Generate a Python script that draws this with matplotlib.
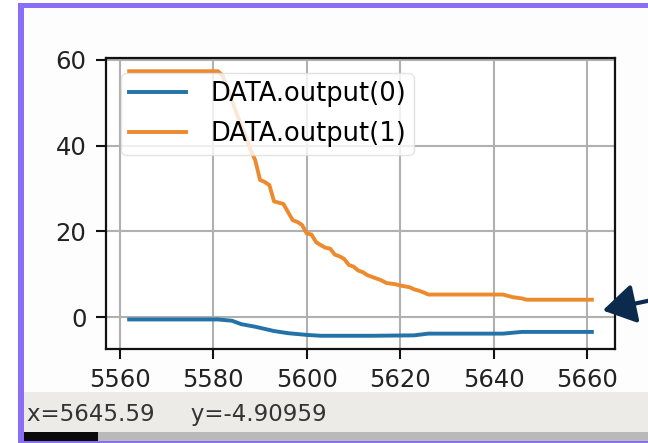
#!/usr/bin/env python
import numpy as np
import matplotlib
matplotlib.use("Agg")
import matplotlib.pyplot as plt
from matplotlib.patches import Rectangle, FancyArrowPatch

# data
blue_x = [5562, 5581, 5584, 5586, 5589, 5593, 5596, 5600, 5603, 5614, 5623, 5626, 5642, 5646, 5661]
blue_y = [-0.5, -0.5, -0.8, -1.6, -2.2, -3.2, -3.7, -4.1, -4.3, -4.3, -4.2, -3.8, -3.8, -3.4, -3.4]

orange_x = [5562, 5581, 5582, 5585, 5588, 5589, 5590, 5591, 5592, 5593, 5595, 5596, 5597,
            5598, 5599, 5600, 5601, 5602, 5603, 5604, 5605, 5606, 5607, 5608, 5609, 5610,
            5611, 5612, 5613, 5615, 5616, 5617, 5619, 5620, 5622, 5623, 5624, 5625, 5626,
            5642, 5643, 5644, 5646, 5647, 5661]
orange_y = [57.3, 57.3, 56.3, 47.5, 39.0, 36.5, 32.0, 31.5, 30.8, 27.0, 26.4, 24.5, 22.6,
            22.2, 21.5, 19.5, 19.3, 17.5, 16.8, 16.2, 16.0, 14.6, 14.2, 13.6, 12.2, 11.8,
            10.9, 10.5, 9.8, 9.0, 8.6, 8.0, 7.7, 7.4, 7.0, 6.5, 6.2, 5.8, 5.3,
            5.3, 5.0, 4.7, 4.4, 4.1, 4.1]

labels = ["DATA.output(0)", "DATA.output(1)"]
status_text = "x=5645.59     y=-4.90959"

W, H = 648, 443

def fx(x):
    return x / W

def fy(y):
    return 1 - y / H

def box(x0, y0, x1, y1, color, z):
    # rectangle given in screenshot pixels (top-left origin)
    fig.patches.append(Rectangle((fx(x0), fy(y1)), fx(x1 - x0), (y1 - y0) / H,
                                 transform=fig.transFigure, facecolor=color,
                                 edgecolor="none", zorder=z))

fig = plt.figure(figsize=(W / 100, H / 100), dpi=100)
fig.patch.set_facecolor("white")

# window background, status bar, bottom strip
box(24, 8, 648, 392, "#fdfdfd", -5)
box(24, 392, 648, 432, "#edebe7", -5)
box(24, 432, 648, 441, "#b9b9b9", -5)
box(24, 432, 98, 441, "#0a0a0a", -4)
# purple frame
purple = "#8a6ff6"
box(18, 3, 24, 443, purple, -3)
box(18, 3, 648, 8, purple, -3)
box(18, 441, 648, 443, purple, -3)

ax = fig.add_axes([fx(106), fy(349), fx(615 - 106), (349 - 58) / H])
ax.set_facecolor("white")
ax.plot(blue_x, blue_y, color="#2372a8", lw=2.8, label=labels[0])
ax.plot(orange_x, orange_y, color="#ee8a2e", lw=2.8, label=labels[1])

ax.set_xticks([5560, 5580, 5600, 5620, 5640, 5660])
ax.set_yticks([0, 20, 40, 60])
ax.grid(True, color="#b0b0b0", lw=1.5)
for s in ax.spines.values():
    s.set_linewidth(1.6)
    s.set_color("#111111")
ax.tick_params(labelsize=17.5, length=7, width=1.5, pad=7, colors="#111111", labelcolor="#222222")

leg = ax.legend(loc="upper left", fontsize=18.5, handlelength=2.2, handletextpad=0.95,
                borderpad=0.3, borderaxespad=0.6, labelspacing=0.55, framealpha=0.8,
                fancybox=True, edgecolor="#dddddd")
for line in leg.get_lines():
    line.set_linewidth(2.8)

fig.text(fx(27), fy(415), status_text, fontsize=16.5, color="#333333", va="center", ha="left")

arrow = FancyArrowPatch((fx(652), fy(300)), (fx(600), fy(311)), transform=fig.transFigure,
                        arrowstyle="-|>,head_length=0.9,head_width=0.55", mutation_scale=22,
                        color="#0c2b4c", lw=3, zorder=5)
fig.patches.append(arrow)

fig.savefig("out.png", dpi=100)
